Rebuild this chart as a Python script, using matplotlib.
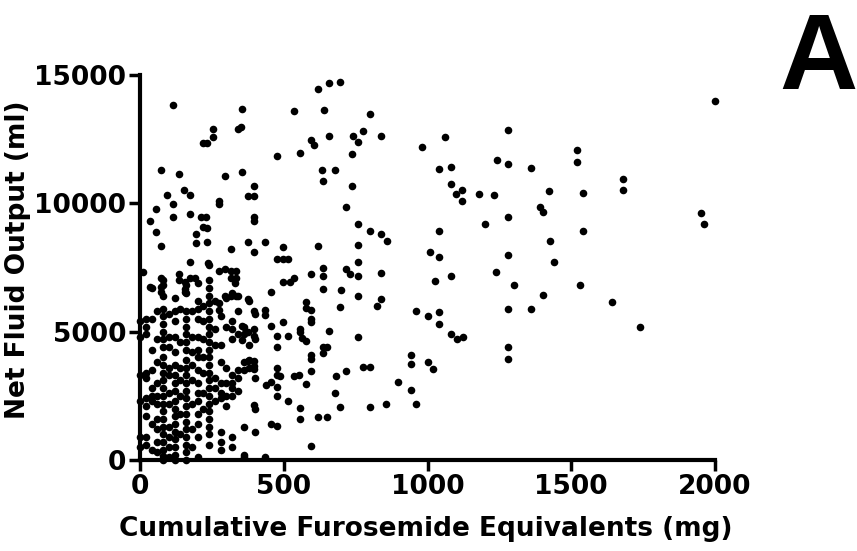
import numpy as np
import matplotlib.pyplot as plt

# points, x = furosemide (mg), y = net output (ml)
right_x = [2000, 1060, 980, 1280, 1040, 1081, 1241, 1280, 1361, 1521, 1521, 1680, 1680, 1082, 1099,
           1121, 1120, 1180, 1231, 1421, 1540, 1391, 1400, 1280, 1951, 1960, 1201, 1040, 1540, 1426,
           1010, 1040, 1280, 1441, 1239, 1081, 1027, 1301, 1530, 1400, 1640, 960, 1000, 1040, 1040,
           1280, 1361, 1740, 1081, 1102, 1124, 1280, 1280, 943, 943, 1000, 1020, 943, 960, 898, 854]
right_y = [14000, 12600, 12200, 12850, 11320, 11410, 11700, 11550, 11370, 12060, 11620, 10960, 10530, 10770, 10360,
           10510, 10100, 10350, 10310, 10490, 10410, 9840, 9680, 9480, 9630, 9190, 9190, 8920, 8940, 8540,
           8100, 7920, 7980, 7720, 7310, 7180, 6980, 6810, 6810, 6420, 6150, 5800, 5620, 5760, 5280,
           5890, 5890, 5170, 4890, 4700, 4790, 4410, 3930, 4110, 3750, 3810, 3530, 2740, 2170, 3050, 2200]

mid_x = [618, 658, 697, 537, 639, 799, 476, 556, 596, 605, 657, 742, 757, 776, 837, 736, 634, 677, 636, 738,
         718, 757, 799, 839, 858, 618, 757, 837, 757, 718, 731, 757, 596, 636, 636, 636, 698, 757, 837, 824,
         697, 596, 596, 596, 657, 757, 638, 652, 596, 596, 596, 636, 716, 680, 776, 799, 677, 799, 697, 618,
         652, 596, 556, 556, 514, 476, 476, 476, 457, 487, 457, 438, 537, 577, 554, 436, 497, 497, 478, 516,
         457, 497, 537, 520, 577, 577, 436, 436, 457, 497, 478, 516, 556, 556, 565, 577, 478, 478, 478, 436]
mid_y = [14440, 14700, 14740, 13590, 13630, 13480, 11850, 11950, 12480, 12290, 12630, 12630, 12400, 12800, 12630,
         11920, 11290, 11290, 10880, 10690, 9870, 9200, 8920, 8790, 8550, 8350, 8360, 7270, 7700, 7430,
         7230, 7160, 7230, 7500, 7160, 6680, 6610, 6400, 6270, 5990, 5970, 5860, 5510, 5380, 5040, 4800,
         4420, 4420, 4080, 3940, 3460, 4150, 3460, 3260, 3640, 3640, 2610, 2070, 2070, 1680, 1680, 550,
         2020, 1610, 2300, 2500, 2850, 1340, 1410, 3260, 3050, 2910, 3260, 2980, 3330, 8500, 8280, 7840,
         7840, 7840, 6540, 6950, 7090, 6950, 6170, 5930, 5860, 5650, 5240, 5380, 4830, 4830, 5100, 4970,
         4760, 4650, 4420, 3600, 3330, 100]

upper_x = [116, 356, 351, 342, 253, 255, 219, 234, 295, 354, 74, 135, 396, 95, 154, 173, 116, 276, 276, 377,
           396, 57, 36, 57, 116, 175, 213, 230, 219, 234, 196, 396, 396, 74, 194, 234, 316, 377, 396, 175,
           236, 11, 74, 74, 74, 34, 135, 135, 158, 175, 192, 158, 158, 276, 295, 316, 335, 316, 335, 329,
           295, 276, 276, 316, 335, 375, 396, 396, 356, 356, 396, 377, 396, 375, 396, 396, 396]
upper_y = [13840, 13690, 12970, 12880, 12880, 12590, 12360, 12360, 11060, 11240, 11290, 11130, 10690, 10330, 10510,
           10330, 9960, 9990, 10100, 10300, 10300, 9790, 9310, 8900, 9460, 9590, 9460, 9460, 9070, 9030,
           8800, 9460, 9320, 8320, 8460, 8490, 8210, 8500, 8120, 7730, 7660, 7320, 7090, 6750, 6540,
           6750, 7250, 7020, 6950, 7090, 7090, 6680, 6540, 7360, 7460, 7360, 7360, 7090, 7090, 6880,
           6400, 6130, 5860, 6400, 6400, 6270, 5790, 4830, 5240, 4690, 5100, 4970, 3870, 3870, 3670,
           3530, 2160]

# dense part, grouped by dose columns
col_x = [0, 20, 40, 60, 80, 100, 120, 140, 160, 180, 200, 220, 240, 260, 280, 300, 320, 340, 360, 380, 400]
col_y = [
    [5400, 4800, 3300, 2300, 900, 500],
    [5500, 5200, 4900, 3400, 3200, 2400, 2100, 1700, 900, 600],
    [6700, 5500, 4300, 3500, 2800, 2500, 2300, 1400, 400],
    [5800, 4700, 3800, 3000, 2500, 2200, 1600, 1200, 700, 300],
    [7000, 6800, 6400, 5900, 5600, 5300, 5000, 4700, 4400, 4000, 3700, 3400, 3100, 2800, 2500, 2200,
     1900, 1600, 1300, 1000, 700, 400, 150, 0],
    [5700, 4800, 4400, 3600, 3300, 2600, 2200, 1300, 900, 500, 100],
    [6300, 5800, 5400, 4800, 4200, 3700, 3300, 3000, 2700, 2300, 2000, 1700, 1400, 1100, 800, 500, 200, 0],
    [5900, 4600, 3600, 3100, 2500, 1800, 1000],
    [6800, 6500, 5800, 5500, 5200, 4900, 4600, 4300, 3900, 3600, 3300, 3000, 2700, 2400, 2100, 1800,
     1500, 1200, 900, 600, 300, 0],
    [5800, 4800, 4200, 3700, 3100, 2200, 1200, 500],
    [6900, 6200, 5900, 5500, 4800, 4300, 4000, 3500, 3000, 2600, 2300, 1800, 1400, 900, 100],
    [6000, 5400, 4700, 4000, 3400, 2600, 2000],
    [7600, 7000, 6700, 6400, 6100, 5800, 5500, 5200, 4900, 4600, 4300, 4000, 3700, 3400, 3100, 2800,
     2500, 2200, 1900, 1600, 1300, 1000, 600],
    [6200, 5100, 4500, 3200, 2800, 2300],
    [5600, 4500, 3800, 3000, 2600, 2400, 1100, 700, 400],
    [6300, 5200, 3600, 3000, 2500, 2100],
    [6500, 5400, 5100, 4700, 3300, 3000, 2800, 2500, 900, 500],
    [6400, 5800, 4900, 3500, 3200, 2700],
    [5200, 4900, 3800, 3500, 1300, 200, 100],
    [6200, 4500, 3900, 3600],
    [5700, 4700, 3200, 2000, 1100],
]

xs = right_x + mid_x + upper_x
ys = right_y + mid_y + upper_y
for cx, cys in zip(col_x, col_y):
    xs += [cx] * len(cys)
    ys += cys

fig = plt.figure(figsize=(8.57, 5.51), dpi=100)
ax = fig.add_axes([140 / 857, 1 - 460 / 551, 575 / 857, 385 / 551])

ax.scatter(xs, ys, s=30, color='black', linewidths=0, clip_on=False, zorder=3)

ax.set_xlim(0, 2000)
ax.set_ylim(0, 15000)
ax.set_xticks([0, 500, 1000, 1500, 2000])
ax.set_yticks([0, 5000, 10000, 15000])
for s in ['top', 'right']:
    ax.spines[s].set_visible(False)
for s in ['left', 'bottom']:
    ax.spines[s].set_linewidth(3)
ax.tick_params(direction='out', length=8, width=2.5, labelsize=19, pad=2)
for lab in ax.get_xticklabels() + ax.get_yticklabels():
    lab.set_fontweight('bold')

ax.set_xlabel('Cumulative Furosemide Equivalents (mg)', fontsize=19, fontweight='bold')
ax.set_ylabel('Net Fluid Output (ml)', fontsize=19, fontweight='bold')
ax.xaxis.set_label_coords(0.497, -0.145)
ax.yaxis.set_label_coords(-0.19, 0.52)

fig.text(779 / 857, 1 - 89 / 551, 'A', fontsize=78, fontweight='bold',
         family='Liberation Sans', ha='left', va='baseline')

fig.savefig('out.png', dpi=100)
